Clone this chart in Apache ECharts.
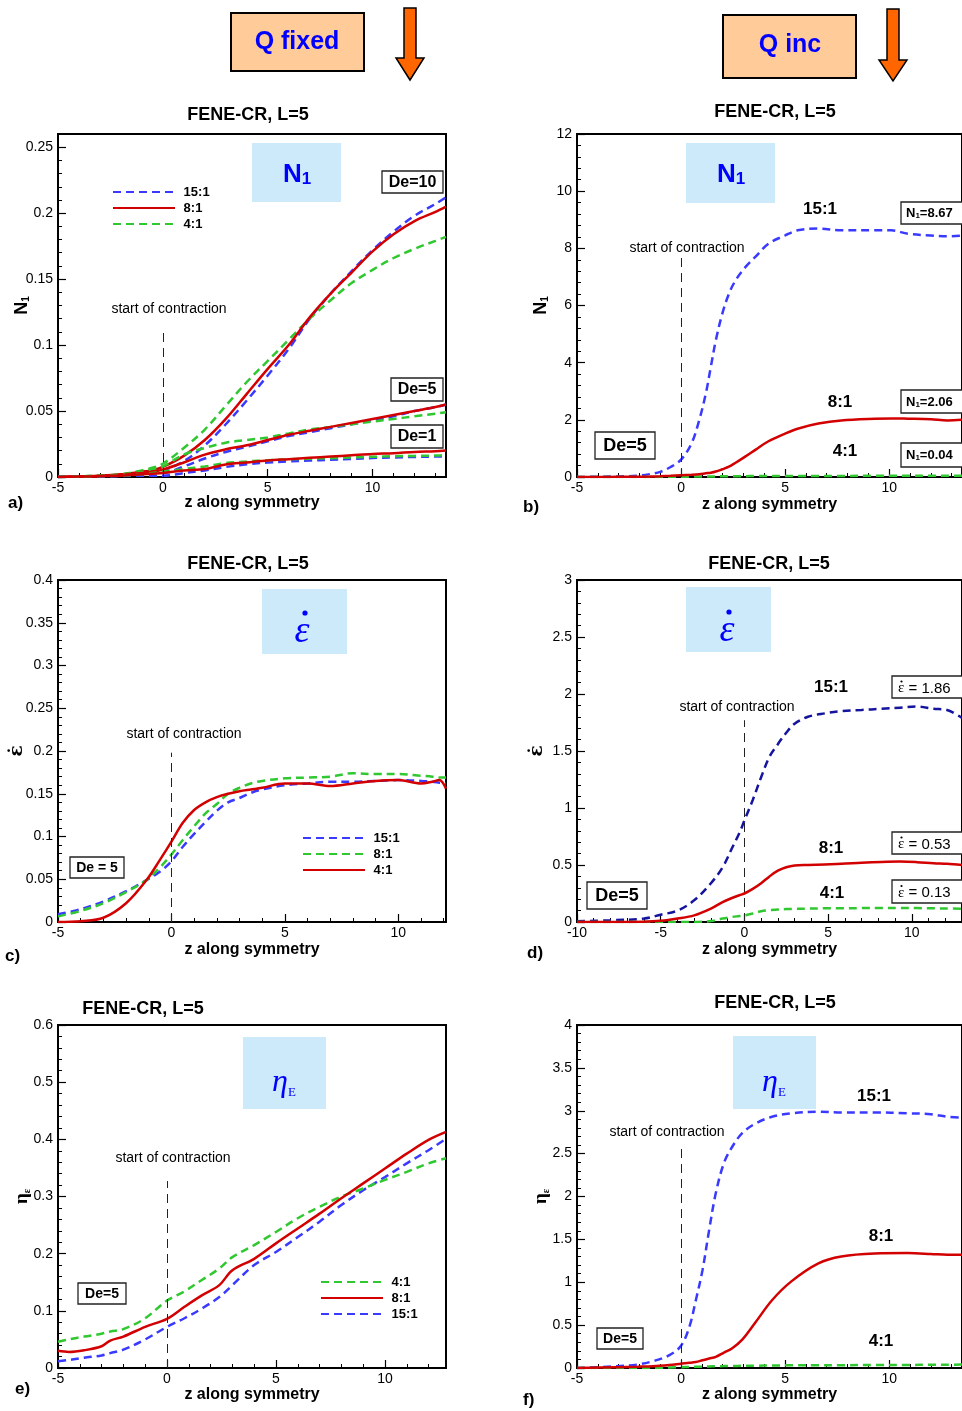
<!DOCTYPE html>
<html><head><meta charset="utf-8">
<script src="https://cdn.jsdelivr.net/npm/echarts@6/dist/echarts.min.js"></script>
<style>html,body{margin:0;padding:0;background:#fff}#c{width:962px;height:1411px}</style>
</head><body><div id="c"></div>
<script>
// ---------------- DATA ----------------
// Panel a : Q fixed, N1 (De = 10, 5, 1)
const zA = [-5,-4,-3,-2,-1,-0.5,0,1,2,3,4,5,6,7,8,9,10,11,12,13,13.5];
const aDe10_15 = [0,0.0004,0.0008,0.0015,0.003,0.004,0.005,0.012,0.024,0.04,0.058,0.077,0.097,0.12,0.139,0.156,0.172,0.186,0.198,0.207,0.212];
const aDe10_8  = [0,0.0005,0.001,0.002,0.004,0.005,0.0076,0.016,0.028,0.044,0.063,0.082,0.1,0.121,0.139,0.155,0.171,0.184,0.194,0.201,0.205];
const aDe10_4  = [0,0.0005,0.001,0.002,0.005,0.007,0.01,0.022,0.036,0.054,0.072,0.088,0.104,0.12,0.134,0.147,0.157,0.166,0.173,0.179,0.182];
const aDe5_15  = [0,0.0003,0.0006,0.001,0.002,0.003,0.003,0.008,0.014,0.019,0.023,0.027,0.031,0.034,0.037,0.04,0.043,0.046,0.05,0.053,0.055];
const aDe5_8   = [0,0.0004,0.0008,0.0015,0.003,0.004,0.0056,0.011,0.017,0.021,0.024,0.028,0.032,0.035,0.038,0.041,0.044,0.047,0.05,0.053,0.055];
const aDe5_4   = [0,0.0005,0.001,0.002,0.004,0.006,0.008,0.017,0.022,0.026,0.028,0.03,0.033,0.036,0.038,0.04,0.042,0.044,0.046,0.048,0.049];
const aDe1_15  = [0,0.0002,0.0004,0.0007,0.001,0.001,0.001,0.003,0.005,0.0076,0.0096,0.011,0.0118,0.0125,0.013,0.0137,0.0144,0.0148,0.0152,0.0155,0.0157];
const aDe1_8   = [0,0.0003,0.0006,0.001,0.002,0.0025,0.003,0.005,0.006,0.0095,0.011,0.0125,0.0135,0.0145,0.0155,0.0165,0.0175,0.018,0.019,0.0195,0.02];
const aDe1_4   = [0,0.0003,0.0006,0.001,0.002,0.003,0.004,0.006,0.008,0.0105,0.0118,0.0127,0.0133,0.0138,0.0143,0.0148,0.0153,0.0157,0.016,0.0163,0.0165];

// Panel b : Q inc, N1 (De = 5)
const zB = [-5,-4,-3,-2,-1.5,-1,-0.5,0,0.5,0.87,1.19,1.43,1.67,1.98,2.3,2.62,3.1,3.57,4.2,5,5.6,6.6,7.7,9.3,10.1,10.9,12,12.8,13.5];
const b15 = [0,0.01,0.02,0.05,0.1,0.18,0.35,0.61,1.17,1.98,2.92,3.85,4.78,5.71,6.41,6.88,7.35,7.7,8.16,8.45,8.63,8.69,8.63,8.63,8.63,8.51,8.45,8.42,8.45];
const b8  = [0,0.002,0.005,0.01,0.015,0.025,0.04,0.06,0.08,0.1,0.13,0.15,0.19,0.27,0.36,0.5,0.72,0.95,1.25,1.52,1.69,1.87,1.98,2.04,2.05,2.04,2.02,1.98,2.0];
const b4  = [0,0,0,0,0,0.002,0.005,0.01,0.013,0.015,0.018,0.02,0.022,0.024,0.026,0.028,0.03,0.032,0.034,0.036,0.037,0.038,0.039,0.04,0.04,0.04,0.04,0.04,0.04];

// Panel c : Q fixed, strain rate
const zC = [-5,-4,-3,-2,-1.1,-0.5,0,0.5,1,1.5,2,2.5,3,3.5,4,5,6,7,8,9,10,11,11.5,11.8,12.1];
const c15 = [0.009,0.015,0.024,0.036,0.049,0.059,0.071,0.088,0.103,0.117,0.13,0.14,0.145,0.151,0.155,0.16,0.162,0.164,0.164,0.165,0.166,0.165,0.164,0.163,0.162];
const c8  = [0.0066,0.013,0.022,0.035,0.049,0.064,0.079,0.096,0.112,0.127,0.138,0.15,0.157,0.162,0.165,0.168,0.169,0.17,0.174,0.173,0.173,0.171,0.17,0.169,0.169];
const c4  = [0,0.001,0.005,0.022,0.049,0.073,0.094,0.116,0.131,0.14,0.146,0.15,0.153,0.155,0.157,0.162,0.162,0.159,0.162,0.165,0.166,0.162,0.164,0.166,0.156];

// Panel d : Q inc, strain rate
const zD = [-10,-8,-6,-5,-4,-3,-2,-1.3,-0.7,-0.3,0,0.5,1,1.5,2,2.5,3,3.8,4.8,5.8,7,8.2,9.3,10.3,11.3,12.1,13];
const d15 = [0.006,0.015,0.03,0.064,0.1,0.19,0.34,0.48,0.66,0.78,0.89,1.07,1.27,1.45,1.56,1.66,1.74,1.8,1.83,1.85,1.86,1.87,1.88,1.89,1.87,1.86,1.79];
const d8  = [0,0,0.002,0.01,0.03,0.058,0.117,0.175,0.213,0.235,0.25,0.29,0.34,0.4,0.45,0.48,0.495,0.5,0.505,0.51,0.52,0.527,0.53,0.525,0.515,0.51,0.5];
const d4  = [0,0,0,0,0,0,0.008,0.03,0.045,0.052,0.058,0.075,0.095,0.103,0.11,0.113,0.115,0.117,0.12,0.12,0.122,0.123,0.123,0.122,0.12,0.119,0.117];

// Panel e : Q fixed, extensional viscosity
const zE = [-5,-4.5,-3.8,-3,-2.6,-2,-1,0,0.8,1.6,2.4,3,4,5,6,7,8,9,10,11,12,12.8];
const e4  = [0.046,0.05,0.055,0.06,0.064,0.068,0.087,0.118,0.134,0.154,0.174,0.194,0.215,0.238,0.262,0.282,0.3,0.314,0.329,0.343,0.358,0.367];
const e8  = [0.03,0.028,0.031,0.038,0.048,0.055,0.072,0.086,0.107,0.127,0.145,0.171,0.191,0.218,0.244,0.27,0.297,0.323,0.349,0.375,0.399,0.413];
const e15 = [0.012,0.014,0.018,0.022,0.026,0.032,0.05,0.072,0.087,0.104,0.124,0.145,0.18,0.203,0.229,0.256,0.285,0.311,0.334,0.358,0.381,0.401];

// Panel f : Q inc, extensional viscosity
const zF = [-5,-3.1,-2.1,-1.35,-0.56,0,0.4,0.71,1.03,1.35,1.67,2.06,2.46,2.94,3.57,4.37,5.3,6.6,7.7,9.3,10.9,12,12.8,13.5];
const f15 = [0,0.02,0.04,0.08,0.15,0.26,0.48,0.79,1.14,1.61,2.04,2.39,2.58,2.74,2.85,2.93,2.97,2.99,2.98,2.98,2.97,2.96,2.93,2.92];
const f8  = [0,0.01,0.015,0.02,0.035,0.05,0.06,0.07,0.09,0.11,0.13,0.18,0.23,0.33,0.53,0.79,1.01,1.22,1.3,1.335,1.34,1.33,1.32,1.32];
const f4  = [0,0,0,0,0.005,0.01,0.012,0.014,0.016,0.018,0.02,0.022,0.024,0.025,0.027,0.03,0.031,0.032,0.033,0.035,0.036,0.037,0.038,0.04];

// axis ranges: [min, max, major interval, minor interval]
const xRangeA = [-5, 13.5, 5, 1], yRangeA = [0, 0.26, 0.05, 0.01];
const xRangeB = [-5, 13.5, 5, 1], yRangeB = [0, 12, 2, 0.4];
const xRangeC = [-5, 12.1, 5, 1], yRangeC = [0, 0.4, 0.05, 0.01];
const xRangeD = [-10, 13, 5, 1],  yRangeD = [0, 3, 0.5, 0.1];
const xRangeE = [-5, 12.8, 5, 1], yRangeE = [0, 0.6, 0.1, 0.02];
const xRangeF = [-5, 13.5, 5, 1], yRangeF = [0, 4, 0.5, 0.1];
// top of the "start of contraction" marker (data units)
const contractionTop = {a:0.113, b:7.66, c:0.198, d:1.77, e:0.327, f:2.58};
const ratioLabels = ['15:1','8:1','4:1'];
const valueLabelsB = ['8.67','2.06','0.04'];
const valueLabelsD = ['1.86','0.53','0.13'];

// ---------------- BUILD ----------------
const FONT = '"Liberation Sans", Arial, Helvetica, sans-serif';
const SERIF = '"Liberation Serif", "DejaVu Serif", serif';
const DSERIF = '"DejaVu Serif", serif';
const C = {blue:'#3A3AFF', navy:'#14149E', red:'#D20000', green:'#30C830', box:'#CCEAFA'};
const grids=[], xAxes=[], yAxes=[], series=[], legends=[];

function addPanel(g, xr, yr, xNameGap, yName, yNameGap, yRich, yNameFont, yNameSize, showYMax){
  const gi = grids.length;
  grids.push({left:g[0], top:g[1], width:g[2], height:g[3], show:true, borderColor:'#000', borderWidth:2, backgroundColor:'transparent'});
  const xi = xAxes.length, yi = yAxes.length;
  xAxes.push({type:'value', gridIndex:gi, position:'bottom', min:xr[0], max:xr[1], interval:xr[2],
    name:'z along symmetry', nameLocation:'middle', nameGap:xNameGap, nameMoveOverlap:false,
    nameTextStyle:{fontFamily:FONT, fontWeight:'bold', fontSize:16, color:'#000'},
    axisLine:{show:true, onZero:false, lineStyle:{color:'#000', width:2}},
    axisTick:{show:true, inside:true, length:8, lineStyle:{color:'#000', width:1.2}},
    axisLabel:{fontFamily:FONT, fontSize:14, color:'#000', margin:4, showMaxLabel:false},
    splitLine:{show:false}});
  xAxes.push({type:'value', gridIndex:gi, position:'bottom', min:xr[0], max:xr[1], interval:xr[3],
    axisLine:{show:false, onZero:false}, axisTick:{show:true, inside:true, length:4, lineStyle:{color:'#000', width:1}},
    axisLabel:{show:false}, splitLine:{show:false}});
  yAxes.push({type:'value', gridIndex:gi, position:'left', min:yr[0], max:yr[1], interval:yr[2],
    name:yName, nameLocation:'middle', nameGap:yNameGap, nameRotate:90, nameMoveOverlap:false,
    nameTextStyle:Object.assign({fontFamily:yNameFont||FONT, fontWeight:'bold', fontSize:yNameSize, color:'#000'}, yRich?{rich:yRich}:{}),
    axisLine:{show:true, onZero:false, lineStyle:{color:'#000', width:2}},
    axisTick:{show:true, inside:true, length:8, lineStyle:{color:'#000', width:1.2}},
    axisLabel:{fontFamily:FONT, fontSize:14, color:'#000', margin:5, showMaxLabel:showYMax},
    splitLine:{show:false}});
  yAxes.push({type:'value', gridIndex:gi, position:'left', min:yr[0], max:yr[1], interval:yr[3],
    axisLine:{show:false, onZero:false}, axisTick:{show:true, inside:true, length:4, lineStyle:{color:'#000', width:1}},
    axisLabel:{show:false}, splitLine:{show:false}});
  return {x:xi, y:yi};
}
function zip(xs, ys){ return xs.map((x,i)=>[x, ys[i]]); }
function addLine(name, ax, xs, ys, color, dashed, top){
  const s = {type:'line', name, xAxisIndex:ax.x, yAxisIndex:ax.y, data:zip(xs,ys), symbol:'none',
    smooth:0.35, animation:false, silent:true,
    lineStyle:{color, width:2.5, type:dashed?[8,5]:'solid'}, itemStyle:{color}};
  if (top !== undefined) {
    s.markLine = {silent:true, symbol:['none','none'], animation:false, label:{show:false},
      lineStyle:{color:'#222', width:1, type:[9,6]},
      data:[[{coord:[0,0]},{coord:[0,top]}]]};
  }
  series.push(s);
}

const N1rich = {n:{fontFamily:FONT, fontWeight:'bold', fontSize:18, color:'#000'}, s:{fontFamily:FONT, fontWeight:'bold', fontSize:10, color:'#000', verticalAlign:'bottom'}};
const ETArich = {n:{fontFamily:SERIF, fontSize:19, color:'#000'}, s:{fontFamily:SERIF, fontSize:10, color:'#000', verticalAlign:'bottom'}};

// panel a
const A = addPanel([58,134,388,343], xRangeA, yRangeA, 18, '{n|N}{s|1}', 27, N1rich, FONT, 18, false);
addLine('a|15:1', A, zA, aDe10_15, C.blue, true, contractionTop.a);
addLine('a|4:1',  A, zA, aDe10_4, C.green, true);
addLine('a|8:1',  A, zA, aDe10_8, C.red, false);
addLine('a5|15:1', A, zA, aDe5_15, C.blue, true);
addLine('a5|4:1',  A, zA, aDe5_4, C.green, true);
addLine('a5|8:1',  A, zA, aDe5_8, C.red, false);
addLine('a1|15:1', A, zA, aDe1_15, C.blue, true);
addLine('a1|4:1',  A, zA, aDe1_4, C.green, true);
addLine('a1|8:1',  A, zA, aDe1_8, C.red, false);
// panel b
const B = addPanel([577,134,388,343], xRangeB, yRangeB, 20, '{n|N}{s|1}', 27, N1rich, FONT, 18, true);
addLine('b|15:1', B, zB, b15, C.blue, true, contractionTop.b);
addLine('b|4:1',  B, zB, b4, C.green, true);
addLine('b|8:1',  B, zB, b8, C.red, false);
// panel c
const Cc = addPanel([58,580,388,342], xRangeC, yRangeC, 20, 'ε\u0307', 31, null, DSERIF, 19, true);
addLine('c|15:1', Cc, zC, c15, C.blue, true, contractionTop.c);
addLine('c|8:1',  Cc, zC, c8, C.green, true);
addLine('c|4:1',  Cc, zC, c4, C.red, false);
// panel d
const D = addPanel([577,580,388,342], xRangeD, yRangeD, 20, 'ε\u0307', 30, null, DSERIF, 19, true);
addLine('d|15:1', D, zD, d15, C.navy, true, contractionTop.d);
addLine('d|4:1',  D, zD, d4, C.green, true);
addLine('d|8:1',  D, zD, d8, C.red, false);
// panel e
const E = addPanel([58,1025,388,343], xRangeE, yRangeE, 19, '{n|η}{s|ε}', 26, ETArich, SERIF, 19, true);
addLine('e|15:1', E, zE, e15, C.blue, true, contractionTop.e);
addLine('e|4:1',  E, zE, e4, C.green, true);
addLine('e|8:1',  E, zE, e8, C.red, false);
// panel f
const F = addPanel([577,1025,388,343], xRangeF, yRangeF, 19, '{n|η}{s|ε}', 26, ETArich, SERIF, 19, true);
addLine('f|15:1', F, zF, f15, C.blue, true, contractionTop.f);
addLine('f|4:1',  F, zF, f4, C.green, true);
addLine('f|8:1',  F, zF, f8, C.red, false);

function legend(left, top, names){
  return {orient:'vertical', left, top, padding:0, itemWidth:62, itemHeight:10, itemGap:2, selectedMode:false,
    data:names, formatter:n=>' '+n.split('|')[1], itemStyle:{opacity:0},
    textStyle:{fontFamily:FONT, fontWeight:'bold', fontSize:13, color:'#000', lineHeight:14}};
}
legends.push(legend(112, 185, ['a|15:1','a|8:1','a|4:1']));
legends.push(legend(302, 831, ['c|15:1','c|8:1','c|4:1']));
legends.push(legend(320, 1275, ['e|4:1','e|8:1','e|15:1']));

// ---------------- GRAPHICS (annotations) ----------------
function T(x, y, text, size, o){
  o = o || {};
  const al = o.align || 'center';
  return {type:'text', x, y, silent:true, z:100, style:{text, fontSize:size, fontWeight:o.bold?'bold':'normal',
    fontStyle:o.italic?'italic':'normal', fontFamily:o.family||FONT, fill:o.color||'#000',
    align:al, textAlign:al, verticalAlign:'middle', textVerticalAlign:'middle', rich:o.rich}};
}
function R(x, y, w, h, fill, stroke, lw){
  return {type:'rect', silent:true, z:90, shape:{x, y, width:w, height:h}, style:{fill, stroke:stroke||null, lineWidth:lw||0}};
}
function dot(cx, cy, r, color){
  return {type:'circle', silent:true, z:101, shape:{cx, cy, r}, style:{fill:color}};
}
function arrow(cx, top, base, tip){
  return {type:'polygon', silent:true, z:100, shape:{points:[[cx-6,top],[cx+6,top],[cx+6,base],[cx+14,base],[cx,tip],[cx-14,base],[cx-6,base]]},
    style:{fill:'#FF6600', stroke:'#000', lineWidth:1.5}};
}
const g = [];
// header
g.push(R(231,13,133,58,'#FFCC99','#000',2), T(297,42,'Q fixed',25,{bold:true,color:'#0000FF'}), arrow(410,8,58,80));
g.push(R(723,15,133,63,'#FFCC99','#000',2), T(790,45,'Q inc',25,{bold:true,color:'#0000FF'}), arrow(893,9,60,81));
// titles
const title = 'FENE-CR, L=5';
[[248,115],[775,112],[248,564],[769,564],[143,1009],[775,1003]].forEach(p=>g.push(T(p[0],p[1],title,18,{bold:true})));
// panel letters
[[8,503,'a)'],[523,507,'b)'],[5,956,'c)'],[527,953,'d)'],[15,1389,'e)'],[523,1400,'f)']].forEach(p=>g.push(T(p[0],p[1],p[2],17,{bold:true,align:'left'})));
// start of contraction
[[169,309],[687,248],[184,734],[737,707],[173,1158],[667,1132]].forEach(p=>g.push(T(p[0],p[1],'start of contraction',14)));
// blue quantity boxes
const n1Rich = {n:{fontSize:26, fontWeight:'bold', fill:'#0000FF', fontFamily:FONT}, s:{fontSize:17, fontWeight:'bold', fill:'#0000FF', fontFamily:FONT, verticalAlign:'bottom'}};
g.push(R(252,143,89,59,C.box), T(297,175,'{n|N}{s|1}',26,{rich:n1Rich}));
g.push(R(686,143,89,60,C.box), T(731,175,'{n|N}{s|1}',26,{rich:n1Rich}));
g.push(R(262,589,85,65,C.box), T(302,632,'ε',38,{italic:true,family:SERIF,color:'#0000FF'}), dot(305,613,2.6,'#0000FF'));
g.push(R(686,587,85,65,C.box), T(727,631,'ε',38,{italic:true,family:SERIF,color:'#0000FF'}), dot(729,612,2.6,'#0000FF'));
const etaRich = {n:{fontSize:32, fontStyle:'italic', fill:'#0000FF', fontFamily:SERIF}, s:{fontSize:13, fill:'#0000FF', fontFamily:SERIF, verticalAlign:'bottom'}};
g.push(R(243,1037,83,72,C.box), T(284,1083,'{n|η}{s|E}',32,{rich:etaRich}));
g.push(R(733,1036,83,73,C.box), T(774,1083,'{n|η}{s|E}',32,{rich:etaRich}));
// De boxes
function deBox(x,y,w,h,text,size){ g.push(R(x,y,w,h,'#fff','#222',1.3), T(x+w/2,y+h/2+0.5,text,size,{bold:true})); }
deBox(382,171,61,22,'De=10',16); deBox(391,378,52,23,'De=5',16); deBox(391,425,52,23,'De=1',16);
deBox(595,432,60,27,'De=5',18);
deBox(70,857,54,21,'De = 5',14);
deBox(587,882,60,27,'De=5',18);
deBox(78,1283,48,21,'De=5',14);
deBox(597,1328,46,21,'De=5',14);
// ratio labels in right panels
[[820,209],[840,402],[845,451]].forEach((p,i)=>g.push(T(p[0],p[1],ratioLabels[i],17,{bold:true})));
[[831,687],[831,848],[832,893]].forEach((p,i)=>g.push(T(p[0],p[1],ratioLabels[i],17,{bold:true})));
[[874,1096],[881,1236],[881,1341]].forEach((p,i)=>g.push(T(p[0],p[1],ratioLabels[i],17,{bold:true})));
// value boxes panel b
const nvRich = {n:{fontSize:13, fontWeight:'bold', fill:'#000', fontFamily:FONT}, s:{fontSize:8, fontWeight:'bold', fill:'#000', fontFamily:FONT, verticalAlign:'bottom'}};
[[202,22],[390,23],[443,24]].forEach((p,i)=>{
  g.push(R(901,p[0],70,p[1],'#fff','#222',1.3), T(906,p[0]+p[1]/2+0.5,'{n|N}{s|1}{n|='+valueLabelsB[i]+'}',13,{align:'left',rich:nvRich}));
});
// value boxes panel d
const evRich = {e:{fontSize:15, fill:'#000', fontFamily:SERIF}, n:{fontSize:15, fill:'#000', fontFamily:FONT}};
[[676,22],[832,22],[880,23]].forEach((p,i)=>{
  const cy = p[0]+p[1]/2+0.5;
  g.push(R(892,p[0],72,p[1],'#fff','#222',1.3), T(898,cy+1,'{e|ε}{n| = '+valueLabelsD[i]+'}',15,{align:'left',rich:evRich}), dot(901.5,cy-6,1.1,'#000'));
});

const chart = echarts.init(document.getElementById('c'), null, {renderer:'canvas', width:962, height:1411});
chart.setOption({
  animation:false,
  backgroundColor:'#fff',
  grid:grids, xAxis:xAxes, yAxis:yAxes, series, legend:legends, graphic:g
});
</script></body></html>
